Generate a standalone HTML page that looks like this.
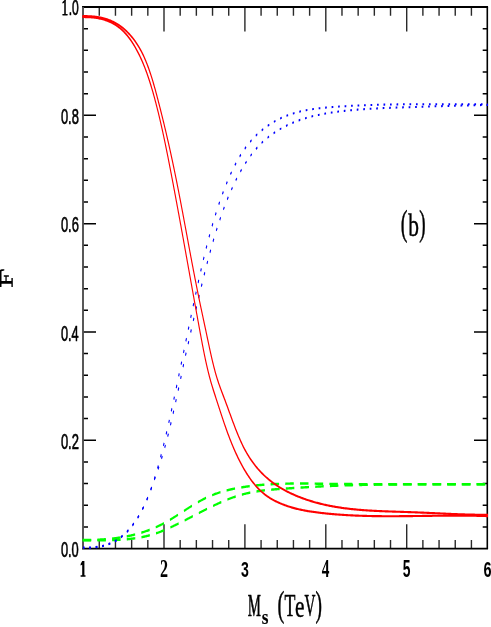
<!DOCTYPE html>
<html><head><meta charset="utf-8"><title>plot</title>
<style>html,body{margin:0;padding:0;background:#fff;width:491px;height:627px;overflow:hidden}</style>
</head><body>
<svg width="491" height="627" viewBox="0 0 491 627" style="display:block;position:absolute;left:0;top:0;will-change:transform">
<rect x="0" y="0" width="491" height="627" fill="#fff"/>
<path d="M99.28,548.7 v-8.7 M99.28,7.0 v8.7 M115.46,548.7 v-8.7 M115.46,7.0 v8.7 M131.64,548.7 v-8.7 M131.64,7.0 v8.7 M147.82,548.7 v-8.7 M147.82,7.0 v8.7 M164.00,548.7 v-24.4 M164.00,7.0 v24.4 M180.18,548.7 v-8.7 M180.18,7.0 v8.7 M196.36,548.7 v-8.7 M196.36,7.0 v8.7 M212.54,548.7 v-8.7 M212.54,7.0 v8.7 M228.72,548.7 v-8.7 M228.72,7.0 v8.7 M244.90,548.7 v-24.4 M244.90,7.0 v24.4 M261.08,548.7 v-8.7 M261.08,7.0 v8.7 M277.26,548.7 v-8.7 M277.26,7.0 v8.7 M293.44,548.7 v-8.7 M293.44,7.0 v8.7 M309.62,548.7 v-8.7 M309.62,7.0 v8.7 M325.80,548.7 v-24.4 M325.80,7.0 v24.4 M341.98,548.7 v-8.7 M341.98,7.0 v8.7 M358.16,548.7 v-8.7 M358.16,7.0 v8.7 M374.34,548.7 v-8.7 M374.34,7.0 v8.7 M390.52,548.7 v-8.7 M390.52,7.0 v8.7 M406.70,548.7 v-24.4 M406.70,7.0 v24.4 M422.88,548.7 v-8.7 M422.88,7.0 v8.7 M439.06,548.7 v-8.7 M439.06,7.0 v8.7 M455.24,548.7 v-8.7 M455.24,7.0 v8.7 M471.42,548.7 v-8.7 M471.42,7.0 v8.7" stroke="#2a2a2a" stroke-width="1.4" fill="none"/>
<path d="M83.0,526.94 h5.0 M487.3,526.94 h-4.6 M83.0,505.27 h5.0 M487.3,505.27 h-4.6 M83.0,483.61 h5.0 M487.3,483.61 h-4.6 M83.0,461.94 h5.0 M487.3,461.94 h-4.6 M83.0,440.28 h13.0 M487.3,440.28 h-13.3 M83.0,418.62 h5.0 M487.3,418.62 h-4.6 M83.0,396.95 h5.0 M487.3,396.95 h-4.6 M83.0,375.29 h5.0 M487.3,375.29 h-4.6 M83.0,353.62 h5.0 M487.3,353.62 h-4.6 M83.0,331.96 h13.0 M487.3,331.96 h-13.3 M83.0,310.30 h5.0 M487.3,310.30 h-4.6 M83.0,288.63 h5.0 M487.3,288.63 h-4.6 M83.0,266.97 h5.0 M487.3,266.97 h-4.6 M83.0,245.30 h5.0 M487.3,245.30 h-4.6 M83.0,223.64 h13.0 M487.3,223.64 h-13.3 M83.0,201.98 h5.0 M487.3,201.98 h-4.6 M83.0,180.31 h5.0 M487.3,180.31 h-4.6 M83.0,158.65 h5.0 M487.3,158.65 h-4.6 M83.0,136.98 h5.0 M487.3,136.98 h-4.6 M83.0,115.32 h13.0 M487.3,115.32 h-13.3 M83.0,93.66 h5.0 M487.3,93.66 h-4.6 M83.0,71.99 h5.0 M487.3,71.99 h-4.6 M83.0,50.33 h5.0 M487.3,50.33 h-4.6 M83.0,28.66 h5.0 M487.3,28.66 h-4.6" stroke="#000" stroke-width="1.5" fill="none"/>
<path d="M82.05,7.0 H488.05 M82.05,548.7 H488.05" fill="none" stroke="#000" stroke-width="1.8"/>
<path d="M83.0,7.0 V548.7" fill="none" stroke="#505050" stroke-width="1.9"/>
<path d="M487.3,7.0 V548.7" fill="none" stroke="#000" stroke-width="1.6"/>
<g transform="scale(1,1.94)" fill="none" stroke-linejoin="round">
<path d="M82.69,278.343 L83.37,278.344 L84.05,278.344 L84.73,278.343 L85.41,278.342 L86.09,278.340 L86.77,278.337 L87.46,278.334 L88.14,278.330 L88.82,278.325 L89.50,278.320 L90.19,278.314 L90.87,278.307 L91.55,278.300 L92.23,278.291 L92.92,278.282 L93.60,278.272 L94.28,278.261 L94.96,278.249 L95.65,278.237 L96.33,278.223 L97.01,278.209 L97.70,278.194 L98.38,278.177 L99.07,278.160 L99.75,278.142 L100.43,278.123 L101.12,278.103 L101.80,278.082 L102.48,278.060 L103.17,278.037 L103.85,278.012 L104.53,277.987 L105.22,277.961 L105.90,277.933 L106.58,277.905 L107.27,277.875 L107.95,277.844 L108.63,277.812 L109.32,277.779 L110.00,277.745 L110.68,277.709 L111.37,277.672 L112.05,277.634 L112.73,277.595 L113.42,277.554 L114.10,277.512 L114.78,277.469 L115.47,277.424 L116.15,277.378 L116.83,277.331 L117.51,277.283 L118.19,277.233 L118.88,277.181 L119.56,277.128 L120.24,277.074 L120.92,277.018 L121.60,276.961 L122.28,276.903 L122.96,276.842 L123.65,276.781 L124.33,276.718 L125.01,276.653 L125.69,276.587 L126.37,276.519 L127.05,276.449 L127.73,276.378 L128.41,276.306 L129.08,276.231 L129.76,276.155 L130.44,276.078 L131.12,275.999 L131.80,275.917 L132.48,275.835 L133.15,275.750 L133.83,275.664 L134.51,275.576 L135.18,275.486 L135.86,275.395 L136.54,275.302 L137.21,275.206 L137.89,275.109 L138.56,275.010 L139.24,274.910 L139.91,274.807 L140.59,274.703 L141.26,274.596 L141.93,274.488 L142.61,274.377 L143.28,274.265 L143.95,274.151 L144.62,274.034 L145.29,273.916 L145.96,273.796 L146.63,273.673 L147.30,273.549 L147.97,273.422 L148.64,273.294 L149.31,273.163 L149.98,273.030 L150.65,272.895 L151.32,272.758 L151.98,272.619 L152.65,272.477 L153.32,272.333 L153.98,272.188 L154.65,272.039 L155.31,271.889 L155.97,271.736 L156.64,271.581 L157.30,271.424 L157.96,271.264 L158.63,271.102 L159.29,270.938 L159.95,270.772 L160.61,270.603 L161.27,270.431 L161.93,270.257 L162.59,270.081 L163.25,269.903 L163.90,269.721 L164.56,269.538 L165.22,269.352 L165.87,269.164 L166.53,268.973 L167.18,268.781 L167.84,268.586 L168.49,268.390 L169.14,268.191 L169.80,267.991 L170.45,267.790 L171.10,267.586 L171.75,267.381 L172.41,267.175 L173.06,266.967 L173.71,266.758 L174.36,266.548 L175.01,266.337 L175.66,266.125 L176.31,265.911 L176.96,265.697 L177.61,265.482 L178.26,265.267 L178.91,265.051 L179.56,264.834 L180.21,264.617 L180.86,264.400 L181.51,264.182 L182.16,263.965 L182.81,263.747 L183.45,263.529 L184.10,263.311 L184.75,263.094 L185.40,262.876 L186.05,262.659 L186.70,262.443 L187.35,262.227 L188.00,262.011 L188.65,261.796 L189.30,261.582 L189.95,261.369 L190.60,261.157 L191.25,260.945 L191.91,260.735 L192.56,260.526 L193.21,260.319 L193.86,260.112 L194.51,259.907 L195.17,259.704 L195.82,259.502 L196.47,259.302 L197.13,259.104 L197.78,258.907 L198.44,258.713 L199.09,258.520 L199.75,258.330 L200.41,258.141 L201.07,257.955 L201.72,257.772 L202.38,257.591 L203.04,257.412 L203.70,257.236 L204.36,257.063 L205.02,256.892 L205.69,256.725 L206.35,256.560 L207.01,256.398 L207.68,256.239 L208.34,256.083 L209.01,255.930 L209.67,255.779 L210.34,255.631 L211.01,255.486 L211.67,255.343 L212.34,255.203 L213.01,255.066 L213.68,254.931 L214.35,254.799 L215.02,254.669 L215.69,254.542 L216.37,254.417 L217.04,254.295 L217.71,254.175 L218.38,254.057 L219.06,253.942 L219.73,253.829 L220.41,253.718 L221.08,253.610 L221.75,253.503 L222.43,253.399 L223.11,253.298 L223.78,253.198 L224.46,253.100 L225.13,253.005 L225.81,252.911 L226.49,252.819 L227.17,252.730 L227.84,252.642 L228.52,252.556 L229.20,252.472 L229.88,252.390 L230.56,252.310 L231.23,252.231 L231.91,252.155 L232.59,252.079 L233.27,252.006 L233.95,251.933 L234.63,251.863 L235.31,251.794 L235.99,251.726 L236.67,251.660 L237.35,251.595 L238.03,251.531 L238.71,251.469 L239.39,251.407 L240.07,251.347 L240.75,251.288 L241.43,251.231 L242.11,251.174 L242.79,251.118 L243.47,251.064 L244.15,251.010 L244.83,250.957 L245.51,250.906 L246.19,250.855 L246.88,250.805 L247.56,250.757 L248.24,250.709 L248.92,250.662 L249.60,250.616 L250.28,250.571 L250.96,250.527 L251.64,250.484 L252.32,250.442 L253.01,250.401 L253.69,250.361 L254.37,250.321 L255.05,250.282 L255.73,250.245 L256.41,250.208 L257.09,250.172 L257.78,250.137 L258.46,250.102 L259.14,250.069 L259.82,250.036 L260.50,250.004 L261.18,249.973 L261.87,249.943 L262.55,249.914 L263.23,249.885 L263.91,249.857 L264.59,249.830 L265.28,249.803 L265.96,249.777 L266.64,249.752 L267.32,249.728 L268.01,249.705 L268.69,249.682 L269.37,249.660 L270.05,249.638 L270.73,249.617 L271.42,249.597 L272.10,249.578 L272.78,249.559 L273.46,249.541 L274.15,249.523 L274.83,249.506 L275.51,249.490 L276.20,249.474 L276.88,249.459 L277.56,249.444 L278.24,249.431 L278.93,249.417 L279.61,249.404 L280.29,249.392 L280.97,249.380 L281.66,249.369 L282.34,249.359 L283.02,249.349 L283.71,249.339 L284.39,249.330 L285.07,249.321 L285.76,249.313 L286.44,249.306 L287.12,249.298 L287.80,249.292 L288.49,249.286 L289.17,249.280 L289.85,249.274 L290.54,249.269 L291.22,249.265 L291.90,249.261 L292.59,249.257 L293.27,249.254 L293.95,249.251 L294.64,249.248 L295.32,249.246 L296.00,249.244 L296.69,249.243 L297.37,249.241 L298.05,249.241 L298.74,249.240 L299.42,249.240 L300.10,249.240 L300.79,249.240 L301.47,249.241 L302.15,249.242 L302.84,249.243 L303.52,249.245 L304.21,249.247 L304.89,249.249 L305.57,249.251 L306.26,249.253 L306.94,249.256 L307.62,249.259 L308.31,249.262 L308.99,249.265 L309.67,249.269 L310.36,249.272 L311.04,249.276 L311.72,249.280 L312.41,249.284 L313.09,249.288 L313.78,249.293 L314.46,249.297 L315.14,249.302 L315.83,249.306 L316.51,249.311 L317.19,249.316 L317.88,249.321 L318.56,249.326 L319.24,249.331 L319.93,249.336 L320.61,249.341 L321.30,249.347 L321.98,249.352 L322.66,249.357 L323.35,249.362 L324.03,249.368 L324.71,249.373 L325.40,249.378 L326.08,249.383 L326.76,249.388 L327.45,249.394 L328.13,249.399 L328.81,249.404 L329.50,249.409 L330.18,249.413 L330.87,249.418 L331.55,249.423 L332.23,249.428 L332.92,249.432 L333.60,249.437 L334.28,249.441 L334.97,249.445 L335.65,249.449 L336.33,249.454 L337.02,249.458 L337.70,249.462 L338.38,249.466 L339.07,249.469 L339.75,249.473 L340.43,249.477 L341.12,249.480 L341.80,249.484 L342.48,249.487 L343.17,249.491 L343.85,249.494 L344.53,249.497 L345.22,249.501 L345.90,249.504 L346.58,249.507 L347.27,249.510 L347.95,249.513 L348.63,249.515 L349.32,249.518 L350.00,249.521 L350.68,249.523 L351.37,249.526 L352.05,249.529 L352.73,249.531 L353.42,249.533 L354.10,249.536 L354.78,249.538 L355.47,249.540 L356.15,249.542 L356.83,249.544 L357.52,249.546 L358.20,249.548 L358.88,249.550 L359.57,249.552 L360.25,249.554 L360.93,249.556 L361.61,249.557 L362.30,249.559 L362.98,249.561 L363.66,249.562 L364.35,249.564 L365.03,249.565 L365.71,249.566 L366.40,249.568 L367.08,249.569 L367.76,249.570 L368.45,249.572 L369.13,249.573 L369.81,249.574 L370.50,249.575 L371.18,249.576 L371.86,249.577 L372.54,249.578 L373.23,249.579 L373.91,249.580 L374.59,249.580 L375.28,249.581 L375.96,249.582 L376.64,249.583 L377.33,249.583 L378.01,249.584 L378.69,249.584 L379.38,249.585 L380.06,249.586 L380.74,249.586 L381.43,249.586 L382.11,249.587 L382.79,249.587 L383.47,249.588 L384.16,249.588 L384.84,249.588 L385.52,249.588 L386.21,249.589 L386.89,249.589 L387.57,249.589 L388.26,249.589 L388.94,249.589 L389.62,249.589 L390.30,249.589 L390.99,249.590 L391.67,249.590 L392.35,249.590 L393.04,249.590 L393.72,249.589 L394.40,249.589 L395.09,249.589 L395.77,249.589 L396.45,249.589 L397.13,249.589 L397.82,249.589 L398.50,249.589 L399.18,249.588 L399.87,249.588 L400.55,249.588 L401.23,249.588 L401.92,249.588 L402.60,249.587 L403.28,249.587 L403.96,249.587 L404.65,249.587 L405.33,249.586 L406.01,249.586 L406.70,249.586 L407.38,249.585 L408.06,249.585 L408.75,249.585 L409.43,249.584 L410.11,249.584 L410.80,249.584 L411.48,249.583 L412.16,249.583 L412.84,249.583 L413.53,249.582 L414.21,249.582 L414.89,249.582 L415.58,249.581 L416.26,249.581 L416.94,249.580 L417.63,249.580 L418.31,249.580 L418.99,249.579 L419.67,249.579 L420.36,249.579 L421.04,249.579 L421.72,249.578 L422.41,249.578 L423.09,249.578 L423.77,249.577 L424.46,249.577 L425.14,249.577 L425.82,249.577 L426.51,249.576 L427.19,249.576 L427.87,249.576 L428.55,249.576 L429.24,249.575 L429.92,249.575 L430.60,249.575 L431.29,249.575 L431.97,249.575 L432.65,249.575 L433.34,249.575 L434.02,249.575 L434.70,249.575 L435.39,249.575 L436.07,249.575 L436.75,249.575 L437.44,249.575 L438.12,249.575 L438.80,249.575 L439.48,249.575 L440.17,249.575 L440.85,249.575 L441.53,249.575 L442.22,249.576 L442.90,249.576 L443.58,249.576 L444.27,249.576 L444.95,249.577 L445.63,249.577 L446.32,249.578 L447.00,249.578 L447.68,249.579 L448.37,249.579 L449.05,249.580 L449.73,249.580 L450.42,249.581 L451.10,249.581 L451.78,249.582 L452.47,249.583 L453.15,249.584 L453.83,249.584 L454.52,249.585 L455.20,249.586 L455.88,249.587 L456.57,249.588 L457.25,249.589 L457.93,249.590 L458.62,249.591 L459.30,249.592 L459.98,249.594 L460.67,249.595 L461.35,249.596 L462.03,249.597 L462.72,249.599 L463.40,249.600 L464.08,249.602 L464.77,249.603 L465.45,249.605 L466.13,249.606 L466.82,249.608 L467.50,249.610 L468.18,249.612 L468.87,249.614 L469.55,249.615 L470.23,249.617 L470.92,249.619 L471.60,249.622 L472.28,249.624 L472.97,249.626 L473.65,249.628 L474.33,249.630 L475.02,249.633 L475.70,249.635 L476.38,249.638 L477.07,249.640 L477.75,249.643 L478.44,249.646 L479.12,249.648 L479.80,249.651 L480.49,249.654 L481.17,249.657 L481.85,249.660 L482.54,249.663 L483.22,249.666 L483.90,249.670 L484.59,249.673 L485.27,249.676 L485.96,249.680 L486.64,249.683 L487.32,249.687 L488.01,249.690" stroke="#00ff00" stroke-width="1.25" stroke-dasharray="8.5 6.2"/>
<path d="M82.69,278.520 L83.37,278.515 L84.05,278.511 L84.73,278.508 L85.41,278.504 L86.09,278.501 L86.77,278.499 L87.45,278.497 L88.13,278.495 L88.81,278.493 L89.49,278.492 L90.17,278.491 L90.85,278.490 L91.53,278.489 L92.21,278.489 L92.89,278.488 L93.57,278.488 L94.26,278.487 L94.94,278.487 L95.62,278.487 L96.30,278.487 L96.98,278.486 L97.67,278.486 L98.35,278.485 L99.03,278.484 L99.71,278.483 L100.40,278.482 L101.08,278.481 L101.76,278.479 L102.45,278.477 L103.13,278.475 L103.81,278.472 L104.49,278.469 L105.18,278.466 L105.86,278.462 L106.55,278.458 L107.23,278.453 L107.91,278.447 L108.60,278.442 L109.28,278.435 L109.96,278.428 L110.65,278.420 L111.33,278.412 L112.01,278.402 L112.70,278.393 L113.38,278.382 L114.07,278.370 L114.75,278.358 L115.43,278.345 L116.12,278.331 L116.80,278.316 L117.48,278.300 L118.17,278.283 L118.85,278.266 L119.54,278.247 L120.22,278.227 L120.90,278.206 L121.59,278.184 L122.27,278.161 L122.95,278.136 L123.63,278.111 L124.32,278.084 L125.00,278.056 L125.68,278.026 L126.37,277.995 L127.05,277.963 L127.73,277.930 L128.41,277.895 L129.10,277.859 L129.78,277.821 L130.46,277.782 L131.14,277.741 L131.82,277.699 L132.50,277.655 L133.19,277.609 L133.87,277.562 L134.55,277.513 L135.23,277.463 L135.91,277.411 L136.59,277.357 L137.27,277.301 L137.95,277.243 L138.63,277.184 L139.31,277.123 L139.99,277.059 L140.67,276.994 L141.34,276.927 L142.02,276.858 L142.70,276.787 L143.38,276.714 L144.06,276.639 L144.73,276.561 L145.41,276.482 L146.09,276.400 L146.76,276.316 L147.44,276.230 L148.11,276.142 L148.79,276.051 L149.46,275.958 L150.14,275.863 L150.81,275.765 L151.48,275.665 L152.16,275.563 L152.83,275.458 L153.50,275.351 L154.17,275.241 L154.84,275.128 L155.51,275.013 L156.18,274.896 L156.85,274.775 L157.52,274.653 L158.19,274.527 L158.86,274.400 L159.53,274.270 L160.19,274.137 L160.86,274.003 L161.53,273.866 L162.19,273.728 L162.86,273.587 L163.52,273.444 L164.19,273.300 L164.85,273.154 L165.52,273.006 L166.18,272.857 L166.84,272.706 L167.51,272.554 L168.17,272.400 L168.83,272.245 L169.50,272.088 L170.16,271.931 L170.82,271.772 L171.48,271.613 L172.15,271.452 L172.81,271.290 L173.47,271.128 L174.13,270.964 L174.79,270.799 L175.46,270.634 L176.12,270.468 L176.78,270.301 L177.44,270.133 L178.10,269.964 L178.76,269.795 L179.42,269.625 L180.08,269.455 L180.74,269.283 L181.41,269.111 L182.07,268.939 L182.73,268.766 L183.39,268.593 L184.05,268.419 L184.71,268.244 L185.37,268.070 L186.03,267.894 L186.69,267.719 L187.35,267.543 L188.01,267.367 L188.67,267.191 L189.33,267.014 L189.99,266.837 L190.65,266.660 L191.31,266.483 L191.97,266.306 L192.63,266.129 L193.29,265.951 L193.95,265.774 L194.61,265.597 L195.27,265.419 L195.93,265.242 L196.59,265.065 L197.25,264.888 L197.91,264.711 L198.57,264.535 L199.23,264.358 L199.89,264.182 L200.55,264.006 L201.21,263.831 L201.87,263.656 L202.53,263.481 L203.19,263.307 L203.85,263.133 L204.51,262.960 L205.18,262.787 L205.84,262.614 L206.50,262.443 L207.16,262.272 L207.82,262.101 L208.48,261.931 L209.14,261.762 L209.81,261.594 L210.47,261.426 L211.13,261.259 L211.79,261.093 L212.45,260.928 L213.12,260.763 L213.78,260.600 L214.44,260.437 L215.10,260.276 L215.77,260.115 L216.43,259.956 L217.09,259.797 L217.76,259.640 L218.42,259.484 L219.09,259.329 L219.75,259.175 L220.41,259.022 L221.08,258.871 L221.74,258.720 L222.41,258.572 L223.07,258.424 L223.74,258.278 L224.41,258.133 L225.07,257.990 L225.74,257.848 L226.41,257.708 L227.07,257.569 L227.74,257.432 L228.41,257.296 L229.07,257.162 L229.74,257.029 L230.41,256.899 L231.08,256.770 L231.75,256.642 L232.42,256.517 L233.09,256.393 L233.76,256.271 L234.43,256.151 L235.10,256.033 L235.77,255.917 L236.44,255.802 L237.11,255.690 L237.78,255.580 L238.45,255.472 L239.12,255.365 L239.80,255.261 L240.47,255.159 L241.14,255.060 L241.82,254.962 L242.49,254.867 L243.16,254.774 L243.84,254.683 L244.51,254.594 L245.19,254.507 L245.87,254.422 L246.54,254.339 L247.22,254.258 L247.89,254.179 L248.57,254.102 L249.25,254.027 L249.93,253.954 L250.60,253.883 L251.28,253.813 L251.96,253.745 L252.64,253.679 L253.32,253.614 L254.00,253.551 L254.68,253.490 L255.36,253.430 L256.04,253.372 L256.72,253.315 L257.40,253.260 L258.08,253.206 L258.76,253.153 L259.44,253.102 L260.12,253.052 L260.80,253.004 L261.48,252.957 L262.16,252.911 L262.85,252.866 L263.53,252.823 L264.21,252.780 L264.89,252.739 L265.57,252.699 L266.26,252.659 L266.94,252.621 L267.62,252.584 L268.31,252.548 L268.99,252.512 L269.67,252.478 L270.35,252.444 L271.04,252.411 L271.72,252.379 L272.40,252.347 L273.09,252.317 L273.77,252.286 L274.45,252.257 L275.14,252.228 L275.82,252.200 L276.50,252.172 L277.19,252.145 L277.87,252.118 L278.56,252.092 L279.24,252.066 L279.92,252.040 L280.61,252.015 L281.29,251.990 L281.97,251.965 L282.66,251.941 L283.34,251.917 L284.02,251.893 L284.71,251.869 L285.39,251.845 L286.07,251.821 L286.76,251.797 L287.44,251.774 L288.12,251.750 L288.80,251.727 L289.49,251.703 L290.17,251.680 L290.85,251.656 L291.54,251.633 L292.22,251.610 L292.90,251.587 L293.58,251.564 L294.26,251.541 L294.95,251.518 L295.63,251.495 L296.31,251.472 L296.99,251.450 L297.68,251.427 L298.36,251.405 L299.04,251.382 L299.72,251.360 L300.40,251.338 L301.09,251.316 L301.77,251.294 L302.45,251.272 L303.13,251.251 L303.81,251.229 L304.49,251.208 L305.18,251.186 L305.86,251.165 L306.54,251.144 L307.22,251.123 L307.90,251.102 L308.58,251.081 L309.27,251.060 L309.95,251.040 L310.63,251.019 L311.31,250.999 L311.99,250.979 L312.67,250.959 L313.35,250.939 L314.04,250.920 L314.72,250.900 L315.40,250.881 L316.08,250.861 L316.76,250.842 L317.44,250.823 L318.12,250.804 L318.80,250.786 L319.49,250.767 L320.17,250.749 L320.85,250.731 L321.53,250.713 L322.21,250.695 L322.89,250.677 L323.57,250.660 L324.25,250.642 L324.94,250.625 L325.62,250.608 L326.30,250.591 L326.98,250.575 L327.66,250.558 L328.34,250.542 L329.02,250.526 L329.71,250.510 L330.39,250.494 L331.07,250.479 L331.75,250.463 L332.43,250.448 L333.11,250.433 L333.79,250.418 L334.48,250.404 L335.16,250.389 L335.84,250.375 L336.52,250.361 L337.20,250.347 L337.88,250.334 L338.57,250.320 L339.25,250.307 L339.93,250.294 L340.61,250.281 L341.29,250.268 L341.97,250.255 L342.66,250.243 L343.34,250.231 L344.02,250.218 L344.70,250.206 L345.38,250.195 L346.07,250.183 L346.75,250.172 L347.43,250.160 L348.11,250.149 L348.79,250.138 L349.48,250.127 L350.16,250.117 L350.84,250.106 L351.52,250.096 L352.20,250.086 L352.89,250.076 L353.57,250.066 L354.25,250.056 L354.93,250.046 L355.61,250.037 L356.30,250.028 L356.98,250.019 L357.66,250.010 L358.34,250.001 L359.02,249.992 L359.71,249.983 L360.39,249.975 L361.07,249.967 L361.75,249.959 L362.44,249.951 L363.12,249.943 L363.80,249.935 L364.48,249.927 L365.16,249.920 L365.85,249.913 L366.53,249.905 L367.21,249.898 L367.89,249.891 L368.58,249.885 L369.26,249.878 L369.94,249.871 L370.62,249.865 L371.31,249.859 L371.99,249.852 L372.67,249.846 L373.35,249.840 L374.03,249.835 L374.72,249.829 L375.40,249.823 L376.08,249.818 L376.76,249.812 L377.45,249.807 L378.13,249.802 L378.81,249.797 L379.49,249.792 L380.18,249.787 L380.86,249.782 L381.54,249.778 L382.22,249.773 L382.91,249.769 L383.59,249.765 L384.27,249.760 L384.95,249.756 L385.64,249.752 L386.32,249.749 L387.00,249.745 L387.69,249.741 L388.37,249.737 L389.05,249.734 L389.73,249.730 L390.42,249.727 L391.10,249.724 L391.78,249.721 L392.46,249.718 L393.15,249.715 L393.83,249.712 L394.51,249.709 L395.19,249.706 L395.88,249.704 L396.56,249.701 L397.24,249.699 L397.92,249.696 L398.61,249.694 L399.29,249.692 L399.97,249.689 L400.65,249.687 L401.34,249.685 L402.02,249.683 L402.70,249.681 L403.39,249.680 L404.07,249.678 L404.75,249.676 L405.43,249.675 L406.12,249.673 L406.80,249.672 L407.48,249.670 L408.16,249.669 L408.85,249.667 L409.53,249.666 L410.21,249.665 L410.89,249.664 L411.58,249.663 L412.26,249.662 L412.94,249.661 L413.63,249.660 L414.31,249.659 L414.99,249.658 L415.67,249.658 L416.36,249.657 L417.04,249.656 L417.72,249.656 L418.40,249.655 L419.09,249.654 L419.77,249.654 L420.45,249.653 L421.13,249.653 L421.82,249.653 L422.50,249.652 L423.18,249.652 L423.87,249.652 L424.55,249.652 L425.23,249.651 L425.91,249.651 L426.60,249.651 L427.28,249.651 L427.96,249.651 L428.64,249.651 L429.33,249.651 L430.01,249.651 L430.69,249.651 L431.37,249.651 L432.06,249.651 L432.74,249.651 L433.42,249.651 L434.10,249.651 L434.79,249.652 L435.47,249.652 L436.15,249.652 L436.83,249.652 L437.52,249.652 L438.20,249.652 L438.88,249.653 L439.56,249.653 L440.25,249.653 L440.93,249.653 L441.61,249.654 L442.29,249.654 L442.98,249.654 L443.66,249.655 L444.34,249.655 L445.02,249.655 L445.71,249.655 L446.39,249.656 L447.07,249.656 L447.75,249.656 L448.44,249.656 L449.12,249.657 L449.80,249.657 L450.48,249.657 L451.17,249.657 L451.85,249.657 L452.53,249.658 L453.21,249.658 L453.89,249.658 L454.58,249.658 L455.26,249.658 L455.94,249.658 L456.62,249.659 L457.31,249.659 L457.99,249.659 L458.67,249.659 L459.35,249.659 L460.03,249.659 L460.72,249.659 L461.40,249.659 L462.08,249.658 L462.76,249.658 L463.44,249.658 L464.13,249.658 L464.81,249.658 L465.49,249.658 L466.17,249.657 L466.86,249.657 L467.54,249.657 L468.22,249.656 L468.90,249.656 L469.58,249.655 L470.26,249.655 L470.95,249.654 L471.63,249.653 L472.31,249.653 L472.99,249.652 L473.67,249.651 L474.36,249.651 L475.04,249.650 L475.72,249.649 L476.40,249.648 L477.08,249.647 L477.77,249.646 L478.45,249.645 L479.13,249.643 L479.81,249.642 L480.49,249.641 L481.17,249.640 L481.86,249.638 L482.54,249.637 L483.22,249.635 L483.90,249.633 L484.58,249.632 L485.26,249.630 L485.94,249.628 L486.63,249.626 L487.31,249.624 L487.99,249.622" stroke="#00ff00" stroke-width="1.25" stroke-dasharray="8.5 6.2"/>
<path d="M83.11,282.234 L83.97,282.260 L84.83,282.281 L85.70,282.298 L86.57,282.311 L87.44,282.318 L88.31,282.321 L89.19,282.318 L90.06,282.310 L90.94,282.296 L91.82,282.277 L92.70,282.251 L93.58,282.219 L94.47,282.181 L95.35,282.136 L96.23,282.084 L97.12,282.025 L98.00,281.960 L98.88,281.886 L99.77,281.805 L100.65,281.717 L101.53,281.620 L102.41,281.515 L103.29,281.402 L104.17,281.281 L105.05,281.150 L105.92,281.011 L106.80,280.863 L107.67,280.705 L108.53,280.538 L109.40,280.361 L110.26,280.174 L111.12,279.977 L111.98,279.770 L112.84,279.552 L113.69,279.324 L114.53,279.085 L115.38,278.834 L116.22,278.573 L117.05,278.300 L117.88,278.015 L118.71,277.720 L119.53,277.413 L120.35,277.095 L121.16,276.766 L121.97,276.426 L122.77,276.075 L123.56,275.713 L124.36,275.341 L125.14,274.958 L125.92,274.565 L126.70,274.161 L127.47,273.747 L128.23,273.323 L128.99,272.889 L129.74,272.445 L130.49,271.991 L131.23,271.527 L131.96,271.053 L132.68,270.570 L133.40,270.077 L134.12,269.575 L134.82,269.063 L135.52,268.542 L136.22,268.012 L136.90,267.473 L137.58,266.925 L138.25,266.368 L138.91,265.802 L139.57,265.228 L140.21,264.645 L140.85,264.053 L141.49,263.453 L142.11,262.845 L142.73,262.229 L143.33,261.604 L143.93,260.971 L144.52,260.331 L145.11,259.683 L145.68,259.027 L146.25,258.364 L146.81,257.694 L147.36,257.017 L147.90,256.334 L148.44,255.644 L148.97,254.948 L149.49,254.245 L150.01,253.537 L150.52,252.823 L151.02,252.104 L151.52,251.379 L152.01,250.649 L152.49,249.915 L152.97,249.175 L153.44,248.431 L153.91,247.683 L154.37,246.931 L154.83,246.175 L155.28,245.415 L155.72,244.651 L156.16,243.884 L156.60,243.115 L157.03,242.342 L157.46,241.566 L157.88,240.788 L158.30,240.008 L158.72,239.225 L159.13,238.440 L159.54,237.654 L159.94,236.866 L160.34,236.077 L160.74,235.287 L161.13,234.496 L161.52,233.703 L161.91,232.911 L162.30,232.117 L162.68,231.323 L163.06,230.528 L163.44,229.732 L163.81,228.935 L164.19,228.138 L164.56,227.341 L164.92,226.542 L165.29,225.743 L165.65,224.944 L166.02,224.143 L166.38,223.343 L166.73,222.541 L167.09,221.739 L167.44,220.937 L167.80,220.134 L168.15,219.330 L168.50,218.526 L168.85,217.722 L169.19,216.917 L169.54,216.112 L169.88,215.306 L170.22,214.499 L170.57,213.693 L170.91,212.886 L171.25,212.078 L171.59,211.270 L171.92,210.462 L172.26,209.653 L172.60,208.845 L172.94,208.035 L173.27,207.226 L173.61,206.416 L173.94,205.606 L174.27,204.795 L174.61,203.984 L174.94,203.173 L175.27,202.362 L175.60,201.550 L175.93,200.738 L176.26,199.926 L176.59,199.114 L176.92,198.301 L177.25,197.489 L177.58,196.676 L177.91,195.862 L178.23,195.049 L178.56,194.235 L178.89,193.421 L179.21,192.607 L179.54,191.793 L179.87,190.979 L180.19,190.164 L180.52,189.350 L180.84,188.535 L181.17,187.720 L181.49,186.905 L181.82,186.090 L182.14,185.275 L182.47,184.460 L182.79,183.644 L183.12,182.829 L183.44,182.013 L183.76,181.198 L184.09,180.382 L184.41,179.566 L184.74,178.751 L185.06,177.935 L185.39,177.119 L185.71,176.304 L186.03,175.488 L186.36,174.672 L186.68,173.856 L187.01,173.041 L187.33,172.225 L187.66,171.409 L187.98,170.594 L188.31,169.778 L188.64,168.963 L188.96,168.147 L189.29,167.332 L189.62,166.517 L189.94,165.702 L190.27,164.887 L190.60,164.072 L190.93,163.257 L191.26,162.442 L191.59,161.628 L191.92,160.813 L192.25,159.999 L192.58,159.185 L192.91,158.371 L193.24,157.558 L193.57,156.744 L193.91,155.931 L194.24,155.118 L194.58,154.305 L194.91,153.492 L195.25,152.680 L195.58,151.868 L195.92,151.056 L196.26,150.244 L196.60,149.433 L196.94,148.622 L197.28,147.811 L197.62,147.001 L197.96,146.191 L198.31,145.382 L198.65,144.573 L199.00,143.765 L199.34,142.957 L199.69,142.150 L200.04,141.344 L200.39,140.538 L200.75,139.733 L201.10,138.929 L201.46,138.126 L201.82,137.324 L202.18,136.522 L202.54,135.721 L202.90,134.922 L203.27,134.123 L203.63,133.325 L204.00,132.529 L204.38,131.733 L204.75,130.939 L205.12,130.145 L205.50,129.353 L205.88,128.563 L206.27,127.773 L206.65,126.985 L207.04,126.198 L207.43,125.413 L207.82,124.628 L208.22,123.846 L208.61,123.065 L209.02,122.285 L209.42,121.507 L209.83,120.731 L210.24,119.956 L210.65,119.183 L211.06,118.411 L211.48,117.642 L211.90,116.874 L212.33,116.108 L212.76,115.343 L213.19,114.581 L213.63,113.821 L214.06,113.062 L214.51,112.306 L214.95,111.551 L215.40,110.799 L215.86,110.048 L216.31,109.300 L216.77,108.554 L217.24,107.811 L217.71,107.069 L218.18,106.330 L218.66,105.593 L219.14,104.858 L219.62,104.126 L220.11,103.396 L220.60,102.669 L221.10,101.944 L221.60,101.222 L222.11,100.502 L222.62,99.785 L223.14,99.070 L223.66,98.359 L224.18,97.650 L224.71,96.945 L225.25,96.243 L225.78,95.545 L226.33,94.850 L226.88,94.159 L227.43,93.472 L227.99,92.789 L228.55,92.111 L229.12,91.436 L229.69,90.767 L230.27,90.102 L230.86,89.442 L231.45,88.787 L232.04,88.137 L232.64,87.492 L233.24,86.853 L233.85,86.220 L234.47,85.592 L235.09,84.971 L235.72,84.355 L236.35,83.746 L236.99,83.143 L237.63,82.546 L238.28,81.957 L238.93,81.374 L239.59,80.798 L240.26,80.229 L240.93,79.668 L241.61,79.114 L242.29,78.568 L242.98,78.029 L243.68,77.499 L244.38,76.976 L245.09,76.462 L245.80,75.956 L246.52,75.458 L247.24,74.968 L247.98,74.486 L248.71,74.013 L249.45,73.547 L250.20,73.088 L250.95,72.638 L251.71,72.195 L252.47,71.760 L253.24,71.333 L254.01,70.913 L254.78,70.500 L255.56,70.095 L256.34,69.697 L257.13,69.307 L257.92,68.923 L258.72,68.547 L259.52,68.178 L260.32,67.816 L261.12,67.461 L261.93,67.113 L262.74,66.771 L263.56,66.437 L264.38,66.109 L265.20,65.788 L266.02,65.473 L266.84,65.165 L267.67,64.863 L268.50,64.568 L269.33,64.279 L270.17,63.996 L271.00,63.720 L271.84,63.449 L272.68,63.185 L273.52,62.927 L274.36,62.674 L275.20,62.428 L276.05,62.187 L276.89,61.953 L277.74,61.723 L278.58,61.500 L279.43,61.282 L280.28,61.069 L281.13,60.861 L281.98,60.659 L282.84,60.462 L283.69,60.270 L284.55,60.083 L285.40,59.901 L286.26,59.724 L287.12,59.552 L287.97,59.384 L288.83,59.221 L289.69,59.063 L290.55,58.908 L291.42,58.759 L292.28,58.613 L293.14,58.472 L294.01,58.335 L294.87,58.202 L295.74,58.073 L296.61,57.948 L297.47,57.826 L298.34,57.709 L299.21,57.595 L300.08,57.484 L300.95,57.377 L301.82,57.274 L302.69,57.173 L303.56,57.076 L304.44,56.983 L305.31,56.892 L306.18,56.804 L307.06,56.719 L307.93,56.638 L308.81,56.558 L309.68,56.482 L310.56,56.408 L311.43,56.337 L312.31,56.268 L313.19,56.201 L314.07,56.137 L314.94,56.075 L315.82,56.015 L316.70,55.958 L317.58,55.902 L318.46,55.848 L319.34,55.796 L320.22,55.745 L321.09,55.697 L321.97,55.649 L322.85,55.604 L323.73,55.560 L324.61,55.517 L325.49,55.475 L326.37,55.434 L327.26,55.395 L328.14,55.357 L329.02,55.319 L329.90,55.282 L330.78,55.247 L331.66,55.212 L332.54,55.177 L333.42,55.143 L334.30,55.110 L335.18,55.077 L336.06,55.044 L336.94,55.012 L337.82,54.981 L338.70,54.950 L339.58,54.919 L340.46,54.889 L341.34,54.860 L342.22,54.831 L343.10,54.802 L343.98,54.774 L344.86,54.747 L345.73,54.720 L346.61,54.693 L347.49,54.667 L348.37,54.641 L349.25,54.616 L350.13,54.591 L351.01,54.566 L351.89,54.542 L352.77,54.519 L353.65,54.496 L354.53,54.473 L355.40,54.451 L356.28,54.429 L357.16,54.408 L358.04,54.387 L358.92,54.366 L359.80,54.346 L360.68,54.326 L361.55,54.307 L362.43,54.288 L363.31,54.269 L364.19,54.251 L365.07,54.233 L365.94,54.216 L366.82,54.199 L367.70,54.182 L368.58,54.166 L369.46,54.150 L370.34,54.134 L371.21,54.119 L372.09,54.104 L372.97,54.089 L373.85,54.075 L374.72,54.061 L375.60,54.048 L376.48,54.034 L377.36,54.022 L378.24,54.009 L379.11,53.997 L379.99,53.985 L380.87,53.973 L381.75,53.962 L382.62,53.951 L383.50,53.940 L384.38,53.930 L385.26,53.920 L386.13,53.910 L387.01,53.900 L387.89,53.891 L388.77,53.882 L389.64,53.873 L390.52,53.865 L391.40,53.857 L392.28,53.849 L393.15,53.841 L394.03,53.834 L394.91,53.827 L395.79,53.820 L396.66,53.813 L397.54,53.807 L398.42,53.801 L399.30,53.795 L400.17,53.789 L401.05,53.783 L401.93,53.778 L402.80,53.773 L403.68,53.768 L404.56,53.764 L405.44,53.759 L406.31,53.755 L407.19,53.751 L408.07,53.747 L408.95,53.743 L409.82,53.740 L410.70,53.737 L411.58,53.734 L412.46,53.731 L413.33,53.728 L414.21,53.725 L415.09,53.723 L415.96,53.721 L416.84,53.718 L417.72,53.717 L418.60,53.715 L419.47,53.713 L420.35,53.711 L421.23,53.710 L422.11,53.709 L422.98,53.708 L423.86,53.707 L424.74,53.706 L425.62,53.705 L426.49,53.704 L427.37,53.704 L428.25,53.703 L429.13,53.703 L430.01,53.703 L430.88,53.702 L431.76,53.702 L432.64,53.702 L433.52,53.702 L434.39,53.703 L435.27,53.703 L436.15,53.703 L437.03,53.703 L437.91,53.704 L438.78,53.704 L439.66,53.705 L440.54,53.706 L441.42,53.706 L442.30,53.707 L443.17,53.708 L444.05,53.708 L444.93,53.709 L445.81,53.710 L446.69,53.711 L447.57,53.712 L448.44,53.713 L449.32,53.713 L450.20,53.714 L451.08,53.715 L451.96,53.716 L452.84,53.717 L453.72,53.718 L454.59,53.719 L455.47,53.720 L456.35,53.721 L457.23,53.721 L458.11,53.722 L458.99,53.723 L459.87,53.724 L460.75,53.724 L461.63,53.725 L462.51,53.726 L463.39,53.726 L464.27,53.727 L465.14,53.727 L466.02,53.728 L466.90,53.728 L467.78,53.728 L468.66,53.728 L469.54,53.729 L470.42,53.729 L471.30,53.728 L472.18,53.728 L473.06,53.728 L473.94,53.728 L474.82,53.727 L475.70,53.727 L476.58,53.726 L477.46,53.725 L478.34,53.725 L479.23,53.724 L480.11,53.722 L480.99,53.721 L481.87,53.720 L482.75,53.718 L483.63,53.717 L484.51,53.715 L485.39,53.713 L486.27,53.711 L487.15,53.709 L488.04,53.706" stroke="#0000ff" stroke-width="1.05" stroke-dasharray="1.7 4.79" stroke-dashoffset="0.3"/>
<path d="M83.10,282.405 L83.97,282.389 L84.83,282.373 L85.70,282.354 L86.57,282.335 L87.44,282.313 L88.31,282.290 L89.18,282.263 L90.05,282.235 L90.92,282.203 L91.79,282.168 L92.66,282.130 L93.53,282.087 L94.40,282.041 L95.27,281.990 L96.14,281.934 L97.01,281.874 L97.88,281.808 L98.75,281.737 L99.61,281.660 L100.48,281.576 L101.35,281.487 L102.21,281.390 L103.08,281.287 L103.94,281.176 L104.80,281.058 L105.66,280.932 L106.52,280.798 L107.37,280.655 L108.23,280.504 L109.08,280.344 L109.93,280.174 L110.78,279.995 L111.63,279.806 L112.47,279.607 L113.31,279.398 L114.15,279.177 L114.99,278.946 L115.83,278.704 L116.66,278.450 L117.49,278.184 L118.31,277.907 L119.13,277.618 L119.95,277.317 L120.77,277.005 L121.58,276.682 L122.38,276.347 L123.19,276.001 L123.98,275.643 L124.77,275.275 L125.56,274.895 L126.34,274.504 L127.12,274.103 L127.88,273.690 L128.65,273.266 L129.40,272.831 L130.15,272.386 L130.89,271.930 L131.63,271.463 L132.36,270.985 L133.08,270.497 L133.79,269.998 L134.49,269.489 L135.19,268.970 L135.87,268.440 L136.55,267.901 L137.22,267.352 L137.89,266.794 L138.54,266.226 L139.19,265.650 L139.83,265.064 L140.46,264.471 L141.09,263.868 L141.70,263.258 L142.31,262.640 L142.91,262.014 L143.50,261.381 L144.09,260.741 L144.67,260.094 L145.24,259.440 L145.81,258.779 L146.36,258.113 L146.92,257.442 L147.46,256.765 L148.00,256.083 L148.54,255.396 L149.07,254.705 L149.59,254.010 L150.12,253.311 L150.63,252.609 L151.15,251.904 L151.66,251.196 L152.16,250.485 L152.66,249.773 L153.16,249.059 L153.66,248.343 L154.16,247.626 L154.65,246.908 L155.14,246.190 L155.63,245.472 L156.12,244.753 L156.60,244.033 L157.09,243.313 L157.57,242.592 L158.05,241.869 L158.52,241.145 L159.00,240.419 L159.46,239.691 L159.93,238.960 L160.39,238.227 L160.85,237.492 L161.30,236.753 L161.75,236.011 L162.19,235.265 L162.63,234.516 L163.07,233.764 L163.49,233.008 L163.92,232.249 L164.34,231.487 L164.75,230.722 L165.16,229.954 L165.57,229.184 L165.97,228.411 L166.37,227.635 L166.77,226.857 L167.16,226.077 L167.55,225.295 L167.93,224.511 L168.31,223.725 L168.69,222.938 L169.06,222.149 L169.43,221.358 L169.80,220.566 L170.17,219.773 L170.53,218.979 L170.89,218.183 L171.25,217.387 L171.60,216.591 L171.96,215.793 L172.31,214.995 L172.66,214.197 L173.00,213.399 L173.35,212.600 L173.69,211.801 L174.04,211.003 L174.38,210.205 L174.72,209.407 L175.05,208.609 L175.39,207.813 L175.73,207.017 L176.06,206.222 L176.40,205.427 L176.73,204.634 L177.06,203.841 L177.40,203.049 L177.73,202.257 L178.06,201.466 L178.38,200.675 L178.71,199.884 L179.04,199.093 L179.36,198.302 L179.69,197.511 L180.01,196.720 L180.33,195.929 L180.66,195.137 L180.98,194.344 L181.29,193.551 L181.61,192.758 L181.93,191.965 L182.25,191.171 L182.56,190.378 L182.88,189.586 L183.20,188.794 L183.52,188.003 L183.84,187.214 L184.16,186.425 L184.49,185.639 L184.81,184.854 L185.14,184.072 L185.48,183.292 L185.81,182.514 L186.15,181.739 L186.50,180.965 L186.84,180.193 L187.18,179.421 L187.53,178.649 L187.87,177.878 L188.21,177.105 L188.55,176.331 L188.88,175.556 L189.21,174.779 L189.54,174.000 L189.87,173.220 L190.20,172.439 L190.54,171.657 L190.87,170.874 L191.21,170.090 L191.55,169.305 L191.89,168.519 L192.24,167.732 L192.59,166.944 L192.94,166.155 L193.29,165.366 L193.64,164.577 L194.00,163.786 L194.36,162.996 L194.71,162.204 L195.07,161.413 L195.43,160.621 L195.79,159.829 L196.15,159.037 L196.51,158.244 L196.87,157.452 L197.23,156.659 L197.59,155.866 L197.96,155.074 L198.32,154.281 L198.68,153.489 L199.04,152.697 L199.41,151.904 L199.77,151.113 L200.13,150.321 L200.50,149.530 L200.87,148.739 L201.23,147.948 L201.60,147.158 L201.97,146.369 L202.34,145.579 L202.71,144.791 L203.08,144.003 L203.46,143.216 L203.83,142.429 L204.21,141.643 L204.59,140.858 L204.97,140.074 L205.35,139.291 L205.73,138.508 L206.12,137.727 L206.50,136.946 L206.89,136.167 L207.28,135.388 L207.67,134.611 L208.07,133.835 L208.46,133.060 L208.86,132.286 L209.26,131.514 L209.67,130.743 L210.07,129.973 L210.48,129.205 L210.89,128.438 L211.30,127.672 L211.72,126.909 L212.13,126.146 L212.55,125.386 L212.98,124.627 L213.40,123.869 L213.83,123.114 L214.26,122.360 L214.70,121.608 L215.14,120.858 L215.58,120.110 L216.02,119.364 L216.47,118.620 L216.92,117.878 L217.38,117.138 L217.83,116.400 L218.29,115.664 L218.76,114.930 L219.23,114.199 L219.70,113.470 L220.18,112.743 L220.65,112.019 L221.14,111.297 L221.63,110.578 L222.12,109.861 L222.61,109.146 L223.11,108.434 L223.62,107.725 L224.12,107.019 L224.64,106.315 L225.15,105.614 L225.67,104.917 L226.20,104.222 L226.73,103.531 L227.26,102.842 L227.80,102.157 L228.34,101.476 L228.89,100.798 L229.44,100.124 L230.00,99.453 L230.56,98.787 L231.12,98.124 L231.69,97.465 L232.26,96.810 L232.84,96.160 L233.43,95.513 L234.01,94.872 L234.61,94.234 L235.20,93.601 L235.80,92.973 L236.41,92.349 L237.02,91.731 L237.64,91.117 L238.26,90.508 L238.88,89.904 L239.51,89.306 L240.15,88.713 L240.79,88.125 L241.43,87.542 L242.08,86.965 L242.74,86.394 L243.40,85.829 L244.06,85.269 L244.73,84.715 L245.40,84.167 L246.08,83.626 L246.77,83.090 L247.46,82.561 L248.15,82.038 L248.85,81.522 L249.55,81.012 L250.26,80.508 L250.98,80.012 L251.69,79.522 L252.42,79.039 L253.14,78.562 L253.88,78.093 L254.61,77.631 L255.36,77.176 L256.10,76.728 L256.85,76.288 L257.61,75.855 L258.37,75.429 L259.13,75.011 L259.90,74.601 L260.67,74.198 L261.45,73.804 L262.23,73.417 L263.01,73.038 L263.80,72.666 L264.59,72.301 L265.39,71.944 L266.19,71.594 L266.99,71.250 L267.80,70.913 L268.60,70.583 L269.41,70.259 L270.23,69.941 L271.04,69.629 L271.86,69.323 L272.68,69.022 L273.50,68.727 L274.32,68.438 L275.14,68.153 L275.97,67.874 L276.79,67.599 L277.62,67.330 L278.45,67.066 L279.28,66.807 L280.11,66.553 L280.94,66.303 L281.77,66.059 L282.61,65.819 L283.44,65.583 L284.28,65.353 L285.12,65.127 L285.95,64.905 L286.79,64.688 L287.64,64.475 L288.48,64.266 L289.32,64.062 L290.17,63.862 L291.01,63.666 L291.86,63.474 L292.70,63.286 L293.55,63.102 L294.40,62.922 L295.25,62.746 L296.10,62.573 L296.95,62.405 L297.80,62.240 L298.66,62.078 L299.51,61.920 L300.37,61.766 L301.22,61.615 L302.08,61.467 L302.94,61.323 L303.79,61.182 L304.65,61.044 L305.51,60.909 L306.37,60.777 L307.23,60.649 L308.09,60.523 L308.95,60.400 L309.81,60.280 L310.68,60.163 L311.54,60.048 L312.40,59.937 L313.27,59.827 L314.13,59.721 L314.99,59.616 L315.86,59.515 L316.72,59.415 L317.59,59.318 L318.46,59.223 L319.32,59.130 L320.19,59.040 L321.06,58.951 L321.92,58.865 L322.79,58.780 L323.66,58.698 L324.53,58.617 L325.39,58.538 L326.26,58.460 L327.13,58.385 L328.00,58.311 L328.87,58.238 L329.74,58.167 L330.60,58.097 L331.47,58.029 L332.34,57.962 L333.21,57.896 L334.08,57.832 L334.95,57.769 L335.82,57.707 L336.68,57.646 L337.55,57.587 L338.42,57.528 L339.29,57.471 L340.16,57.415 L341.03,57.360 L341.90,57.307 L342.77,57.254 L343.63,57.202 L344.50,57.152 L345.37,57.102 L346.24,57.054 L347.11,57.007 L347.98,56.960 L348.85,56.915 L349.72,56.870 L350.58,56.827 L351.45,56.784 L352.32,56.743 L353.19,56.702 L354.06,56.662 L354.93,56.623 L355.80,56.585 L356.67,56.548 L357.54,56.512 L358.40,56.476 L359.27,56.441 L360.14,56.407 L361.01,56.374 L361.88,56.342 L362.75,56.310 L363.62,56.279 L364.49,56.248 L365.36,56.219 L366.22,56.190 L367.09,56.161 L367.96,56.134 L368.83,56.106 L369.70,56.080 L370.57,56.054 L371.44,56.028 L372.31,56.004 L373.18,55.979 L374.05,55.956 L374.92,55.932 L375.78,55.909 L376.65,55.887 L377.52,55.865 L378.39,55.844 L379.26,55.823 L380.13,55.802 L381.00,55.782 L381.87,55.762 L382.74,55.742 L383.61,55.723 L384.48,55.704 L385.35,55.686 L386.22,55.668 L387.09,55.650 L387.95,55.632 L388.82,55.614 L389.69,55.597 L390.56,55.580 L391.43,55.563 L392.30,55.546 L393.17,55.530 L394.04,55.513 L394.91,55.497 L395.78,55.481 L396.65,55.465 L397.52,55.449 L398.39,55.433 L399.26,55.417 L400.13,55.401 L401.00,55.385 L401.87,55.370 L402.74,55.354 L403.61,55.338 L404.48,55.323 L405.35,55.307 L406.22,55.292 L407.09,55.277 L407.96,55.261 L408.83,55.246 L409.70,55.231 L410.57,55.215 L411.44,55.200 L412.31,55.185 L413.18,55.170 L414.05,55.155 L414.92,55.140 L415.79,55.125 L416.66,55.111 L417.53,55.096 L418.40,55.081 L419.27,55.067 L420.14,55.052 L421.01,55.037 L421.88,55.023 L422.75,55.009 L423.62,54.994 L424.49,54.980 L425.36,54.966 L426.23,54.951 L427.10,54.937 L427.97,54.923 L428.84,54.909 L429.71,54.895 L430.58,54.881 L431.45,54.867 L432.32,54.854 L433.19,54.840 L434.06,54.826 L434.93,54.813 L435.80,54.799 L436.67,54.786 L437.54,54.772 L438.41,54.759 L439.28,54.745 L440.15,54.732 L441.02,54.719 L441.89,54.706 L442.76,54.693 L443.63,54.680 L444.50,54.667 L445.38,54.654 L446.25,54.641 L447.12,54.628 L447.99,54.615 L448.86,54.602 L449.73,54.590 L450.60,54.577 L451.47,54.565 L452.34,54.552 L453.21,54.540 L454.08,54.528 L454.95,54.515 L455.82,54.503 L456.69,54.491 L457.56,54.479 L458.43,54.467 L459.30,54.455 L460.17,54.443 L461.04,54.431 L461.91,54.419 L462.78,54.407 L463.65,54.396 L464.52,54.384 L465.39,54.373 L466.26,54.361 L467.13,54.350 L468.00,54.338 L468.87,54.327 L469.74,54.316 L470.61,54.305 L471.47,54.294 L472.34,54.282 L473.21,54.271 L474.08,54.261 L474.95,54.250 L475.82,54.239 L476.69,54.228 L477.56,54.217 L478.43,54.207 L479.30,54.196 L480.17,54.186 L481.04,54.175 L481.91,54.165 L482.78,54.155 L483.65,54.145 L484.52,54.134 L485.39,54.124 L486.26,54.114 L487.13,54.104 L487.99,54.094" stroke="#0000ff" stroke-width="1.05" stroke-dasharray="1.7 4.79" stroke-dashoffset="0.5"/>
<path d="M82.50,8.793 L83.41,8.790 L84.32,8.791 L85.23,8.795 L86.14,8.803 L87.05,8.815 L87.97,8.831 L88.89,8.852 L89.81,8.879 L90.73,8.910 L91.65,8.947 L92.57,8.989 L93.50,9.038 L94.42,9.093 L95.35,9.155 L96.27,9.223 L97.20,9.299 L98.12,9.382 L99.05,9.473 L99.97,9.572 L100.89,9.680 L101.81,9.795 L102.73,9.920 L103.65,10.054 L104.56,10.197 L105.47,10.350 L106.39,10.513 L107.29,10.686 L108.20,10.870 L109.10,11.064 L110.00,11.270 L110.89,11.486 L111.78,11.715 L112.67,11.955 L113.55,12.208 L114.43,12.473 L115.31,12.751 L116.17,13.042 L117.04,13.346 L117.90,13.663 L118.75,13.995 L119.59,14.341 L120.44,14.701 L121.27,15.076 L122.10,15.465 L122.92,15.870 L123.73,16.291 L124.54,16.727 L125.34,17.177 L126.13,17.642 L126.92,18.121 L127.70,18.613 L128.47,19.119 L129.23,19.638 L129.98,20.170 L130.73,20.714 L131.47,21.270 L132.20,21.838 L132.92,22.417 L133.64,23.007 L134.34,23.608 L135.04,24.219 L135.73,24.840 L136.41,25.470 L137.08,26.110 L137.75,26.759 L138.40,27.416 L139.05,28.081 L139.68,28.754 L140.31,29.435 L140.93,30.123 L141.53,30.818 L142.13,31.519 L142.72,32.226 L143.30,32.940 L143.87,33.660 L144.44,34.386 L144.99,35.117 L145.54,35.854 L146.08,36.597 L146.61,37.344 L147.13,38.097 L147.64,38.854 L148.15,39.616 L148.65,40.383 L149.15,41.154 L149.64,41.930 L150.12,42.709 L150.59,43.492 L151.06,44.279 L151.52,45.069 L151.98,45.863 L152.43,46.660 L152.88,47.460 L153.32,48.263 L153.76,49.068 L154.19,49.876 L154.62,50.687 L155.04,51.499 L155.46,52.314 L155.88,53.131 L156.29,53.949 L156.70,54.770 L157.10,55.592 L157.50,56.416 L157.90,57.242 L158.30,58.070 L158.69,58.900 L159.07,59.731 L159.46,60.563 L159.84,61.398 L160.22,62.233 L160.59,63.071 L160.96,63.909 L161.33,64.750 L161.70,65.591 L162.07,66.434 L162.43,67.278 L162.79,68.123 L163.14,68.970 L163.50,69.817 L163.85,70.666 L164.20,71.516 L164.55,72.367 L164.90,73.219 L165.24,74.071 L165.58,74.925 L165.92,75.779 L166.26,76.635 L166.60,77.491 L166.93,78.348 L167.27,79.205 L167.60,80.063 L167.93,80.922 L168.26,81.781 L168.59,82.641 L168.92,83.502 L169.24,84.362 L169.57,85.224 L169.89,86.085 L170.22,86.947 L170.54,87.809 L170.86,88.671 L171.18,89.534 L171.50,90.397 L171.82,91.260 L172.14,92.123 L172.46,92.986 L172.78,93.849 L173.10,94.713 L173.41,95.577 L173.73,96.441 L174.04,97.305 L174.36,98.170 L174.67,99.034 L174.99,99.899 L175.30,100.764 L175.61,101.629 L175.93,102.494 L176.24,103.359 L176.55,104.225 L176.86,105.090 L177.17,105.956 L177.48,106.822 L177.79,107.688 L178.10,108.554 L178.41,109.420 L178.72,110.287 L179.03,111.153 L179.33,112.020 L179.64,112.886 L179.95,113.753 L180.25,114.620 L180.56,115.487 L180.87,116.354 L181.17,117.222 L181.48,118.089 L181.78,118.957 L182.09,119.824 L182.39,120.692 L182.70,121.559 L183.00,122.427 L183.31,123.295 L183.61,124.163 L183.91,125.031 L184.22,125.899 L184.52,126.767 L184.82,127.635 L185.13,128.504 L185.43,129.372 L185.73,130.240 L186.03,131.109 L186.34,131.977 L186.64,132.846 L186.94,133.714 L187.24,134.583 L187.54,135.451 L187.85,136.320 L188.15,137.189 L188.45,138.057 L188.75,138.926 L189.06,139.795 L189.36,140.663 L189.66,141.532 L189.96,142.401 L190.26,143.270 L190.57,144.138 L190.87,145.007 L191.17,145.876 L191.47,146.745 L191.78,147.613 L192.08,148.482 L192.38,149.351 L192.69,150.219 L192.99,151.088 L193.29,151.956 L193.60,152.825 L193.90,153.694 L194.21,154.562 L194.51,155.430 L194.82,156.299 L195.12,157.167 L195.43,158.036 L195.73,158.904 L196.04,159.772 L196.34,160.640 L196.65,161.508 L196.96,162.376 L197.26,163.244 L197.57,164.112 L197.88,164.980 L198.19,165.847 L198.50,166.715 L198.80,167.582 L199.11,168.450 L199.42,169.317 L199.73,170.184 L200.04,171.052 L200.36,171.919 L200.67,172.786 L200.98,173.652 L201.29,174.519 L201.61,175.385 L201.92,176.250 L202.24,177.115 L202.56,177.979 L202.88,178.841 L203.21,179.703 L203.53,180.563 L203.86,181.422 L204.20,182.279 L204.53,183.134 L204.88,183.988 L205.22,184.839 L205.57,185.688 L205.93,186.535 L206.29,187.379 L206.66,188.221 L207.03,189.060 L207.41,189.896 L207.79,190.729 L208.18,191.558 L208.58,192.384 L208.98,193.207 L209.40,194.026 L209.82,194.841 L210.25,195.652 L210.68,196.459 L211.13,197.262 L211.58,198.061 L212.04,198.856 L212.51,199.648 L212.98,200.437 L213.46,201.224 L213.94,202.008 L214.43,202.790 L214.92,203.571 L215.41,204.351 L215.90,205.130 L216.39,205.909 L216.88,206.687 L217.37,207.466 L217.86,208.244 L218.34,209.023 L218.83,209.801 L219.32,210.578 L219.81,211.355 L220.30,212.131 L220.79,212.907 L221.28,213.681 L221.78,214.455 L222.27,215.227 L222.77,215.997 L223.27,216.767 L223.78,217.534 L224.28,218.300 L224.79,219.064 L225.31,219.826 L225.82,220.586 L226.34,221.343 L226.87,222.098 L227.40,222.851 L227.93,223.601 L228.48,224.348 L229.02,225.092 L229.57,225.833 L230.13,226.571 L230.69,227.305 L231.26,228.036 L231.83,228.762 L232.41,229.485 L233.00,230.203 L233.59,230.917 L234.18,231.627 L234.79,232.331 L235.39,233.031 L236.01,233.725 L236.63,234.414 L237.25,235.097 L237.88,235.775 L238.52,236.447 L239.16,237.112 L239.81,237.771 L240.46,238.424 L241.12,239.070 L241.78,239.709 L242.45,240.341 L243.13,240.966 L243.81,241.584 L244.50,242.193 L245.20,242.795 L245.90,243.389 L246.61,243.975 L247.32,244.552 L248.04,245.121 L248.76,245.681 L249.49,246.232 L250.23,246.774 L250.97,247.307 L251.72,247.830 L252.48,248.344 L253.24,248.847 L254.01,249.341 L254.78,249.824 L255.56,250.297 L256.35,250.759 L257.14,251.211 L257.94,251.651 L258.75,252.080 L259.56,252.498 L260.38,252.904 L261.20,253.299 L262.03,253.682 L262.87,254.053 L263.71,254.413 L264.56,254.762 L265.41,255.101 L266.27,255.429 L267.13,255.747 L268.00,256.056 L268.87,256.355 L269.75,256.644 L270.63,256.925 L271.51,257.197 L272.40,257.461 L273.29,257.716 L274.18,257.964 L275.07,258.204 L275.97,258.437 L276.87,258.662 L277.77,258.882 L278.67,259.094 L279.58,259.301 L280.48,259.501 L281.39,259.697 L282.29,259.886 L283.20,260.071 L284.10,260.250 L285.01,260.425 L285.92,260.594 L286.83,260.759 L287.73,260.919 L288.64,261.074 L289.55,261.225 L290.46,261.371 L291.37,261.513 L292.28,261.651 L293.19,261.785 L294.10,261.914 L295.01,262.040 L295.93,262.162 L296.84,262.280 L297.75,262.394 L298.66,262.505 L299.58,262.613 L300.49,262.717 L301.40,262.818 L302.32,262.916 L303.23,263.011 L304.14,263.103 L305.06,263.191 L305.97,263.278 L306.89,263.361 L307.80,263.442 L308.72,263.521 L309.63,263.597 L310.55,263.671 L311.47,263.743 L312.38,263.812 L313.30,263.880 L314.21,263.946 L315.13,264.010 L316.05,264.073 L316.96,264.134 L317.88,264.193 L318.80,264.251 L319.71,264.308 L320.63,264.363 L321.55,264.418 L322.46,264.471 L323.38,264.524 L324.30,264.575 L325.22,264.625 L326.13,264.674 L327.05,264.722 L327.97,264.769 L328.89,264.815 L329.80,264.860 L330.72,264.904 L331.64,264.948 L332.56,264.990 L333.48,265.031 L334.39,265.071 L335.31,265.110 L336.23,265.148 L337.15,265.186 L338.07,265.222 L338.98,265.258 L339.90,265.292 L340.82,265.326 L341.74,265.359 L342.66,265.391 L343.58,265.422 L344.49,265.452 L345.41,265.481 L346.33,265.510 L347.25,265.538 L348.17,265.565 L349.09,265.591 L350.01,265.616 L350.93,265.641 L351.85,265.664 L352.76,265.687 L353.68,265.710 L354.60,265.731 L355.52,265.752 L356.44,265.772 L357.36,265.791 L358.28,265.810 L359.20,265.828 L360.12,265.845 L361.04,265.862 L361.96,265.878 L362.88,265.893 L363.80,265.907 L364.71,265.921 L365.63,265.935 L366.55,265.947 L367.47,265.960 L368.39,265.971 L369.31,265.982 L370.23,265.992 L371.15,266.002 L372.07,266.011 L372.99,266.020 L373.91,266.028 L374.83,266.036 L375.75,266.043 L376.67,266.049 L377.59,266.056 L378.51,266.061 L379.43,266.066 L380.35,266.071 L381.27,266.075 L382.19,266.079 L383.11,266.082 L384.03,266.085 L384.95,266.087 L385.87,266.089 L386.79,266.091 L387.71,266.092 L388.63,266.093 L389.55,266.094 L390.47,266.094 L391.39,266.094 L392.31,266.093 L393.23,266.092 L394.16,266.091 L395.08,266.089 L396.00,266.088 L396.92,266.085 L397.84,266.083 L398.76,266.080 L399.68,266.077 L400.60,266.074 L401.52,266.071 L402.44,266.067 L403.36,266.063 L404.28,266.059 L405.20,266.055 L406.12,266.050 L407.04,266.045 L407.96,266.040 L408.88,266.035 L409.80,266.030 L410.72,266.025 L411.64,266.019 L412.56,266.014 L413.48,266.008 L414.41,266.002 L415.33,265.996 L416.25,265.990 L417.17,265.984 L418.09,265.978 L419.01,265.972 L419.93,265.965 L420.85,265.959 L421.77,265.953 L422.69,265.946 L423.61,265.940 L424.53,265.934 L425.45,265.927 L426.37,265.921 L427.29,265.915 L428.21,265.908 L429.13,265.902 L430.05,265.896 L430.97,265.890 L431.89,265.884 L432.81,265.878 L433.73,265.872 L434.66,265.866 L435.58,265.861 L436.50,265.855 L437.42,265.850 L438.34,265.845 L439.26,265.840 L440.18,265.835 L441.10,265.830 L442.02,265.826 L442.94,265.821 L443.86,265.817 L444.78,265.813 L445.70,265.810 L446.62,265.806 L447.54,265.803 L448.46,265.800 L449.38,265.798 L450.30,265.795 L451.22,265.793 L452.14,265.791 L453.06,265.790 L453.98,265.789 L454.90,265.788 L455.82,265.787 L456.74,265.787 L457.66,265.787 L458.58,265.788 L459.50,265.789 L460.42,265.790 L461.34,265.792 L462.26,265.794 L463.17,265.796 L464.09,265.799 L465.01,265.803 L465.93,265.806 L466.85,265.811 L467.77,265.815 L468.69,265.821 L469.61,265.826 L470.53,265.832 L471.45,265.839 L472.37,265.846 L473.29,265.854 L474.21,265.862 L475.13,265.871 L476.04,265.880 L476.96,265.890 L477.88,265.901 L478.80,265.912 L479.72,265.923 L480.64,265.935 L481.56,265.948 L482.48,265.962 L483.39,265.976 L484.31,265.991 L485.23,266.006 L486.15,266.022 L487.07,266.039 L487.99,266.056" stroke="#ff0000" stroke-width="1.1"/>
<path d="M82.50,8.310 L83.40,8.309 L84.31,8.311 L85.22,8.316 L86.13,8.325 L87.04,8.337 L87.95,8.353 L88.86,8.373 L89.78,8.397 L90.69,8.425 L91.60,8.459 L92.51,8.497 L93.42,8.541 L94.33,8.590 L95.24,8.644 L96.15,8.704 L97.05,8.771 L97.96,8.844 L98.87,8.923 L99.77,9.009 L100.68,9.102 L101.58,9.202 L102.48,9.310 L103.38,9.425 L104.28,9.549 L105.18,9.680 L106.07,9.820 L106.97,9.968 L107.86,10.125 L108.75,10.291 L109.64,10.467 L110.53,10.651 L111.41,10.846 L112.29,11.050 L113.17,11.265 L114.05,11.490 L114.92,11.726 L115.79,11.972 L116.66,12.230 L117.52,12.498 L118.39,12.779 L119.25,13.071 L120.10,13.375 L120.96,13.691 L121.80,14.020 L122.65,14.361 L123.49,14.715 L124.33,15.082 L125.16,15.461 L125.99,15.854 L126.82,16.258 L127.64,16.676 L128.45,17.105 L129.26,17.547 L130.06,18.000 L130.85,18.466 L131.64,18.944 L132.42,19.433 L133.19,19.935 L133.95,20.447 L134.70,20.972 L135.45,21.508 L136.18,22.055 L136.91,22.613 L137.63,23.182 L138.33,23.762 L139.02,24.354 L139.71,24.956 L140.38,25.568 L141.04,26.192 L141.68,26.825 L142.32,27.469 L142.94,28.123 L143.55,28.787 L144.15,29.460 L144.74,30.142 L145.32,30.833 L145.88,31.532 L146.44,32.240 L146.99,32.955 L147.53,33.678 L148.06,34.408 L148.58,35.145 L149.09,35.889 L149.60,36.639 L150.09,37.395 L150.58,38.157 L151.06,38.925 L151.54,39.698 L152.01,40.475 L152.47,41.258 L152.93,42.044 L153.38,42.835 L153.83,43.629 L154.27,44.426 L154.70,45.227 L155.14,46.031 L155.56,46.837 L155.99,47.645 L156.41,48.455 L156.83,49.267 L157.25,50.080 L157.66,50.894 L158.07,51.709 L158.48,52.524 L158.89,53.340 L159.30,54.157 L159.70,54.974 L160.11,55.791 L160.51,56.609 L160.91,57.428 L161.31,58.247 L161.70,59.067 L162.10,59.888 L162.49,60.709 L162.88,61.530 L163.27,62.353 L163.66,63.176 L164.05,63.999 L164.43,64.823 L164.81,65.648 L165.19,66.473 L165.57,67.299 L165.95,68.125 L166.33,68.952 L166.70,69.780 L167.07,70.608 L167.44,71.437 L167.81,72.267 L168.18,73.097 L168.55,73.928 L168.91,74.760 L169.27,75.592 L169.63,76.425 L169.99,77.259 L170.35,78.093 L170.71,78.928 L171.06,79.764 L171.41,80.600 L171.76,81.437 L172.11,82.274 L172.46,83.113 L172.81,83.952 L173.15,84.792 L173.49,85.632 L173.84,86.473 L174.18,87.315 L174.51,88.158 L174.85,89.001 L175.19,89.845 L175.52,90.689 L175.85,91.535 L176.18,92.380 L176.51,93.227 L176.84,94.074 L177.17,94.921 L177.49,95.769 L177.82,96.618 L178.14,97.467 L178.46,98.316 L178.79,99.166 L179.11,100.017 L179.43,100.867 L179.74,101.719 L180.06,102.570 L180.38,103.422 L180.70,104.275 L181.01,105.128 L181.33,105.981 L181.64,106.834 L181.95,107.688 L182.26,108.542 L182.58,109.396 L182.89,110.251 L183.20,111.105 L183.51,111.960 L183.82,112.815 L184.13,113.670 L184.44,114.526 L184.75,115.381 L185.06,116.237 L185.36,117.093 L185.67,117.949 L185.98,118.805 L186.29,119.661 L186.60,120.517 L186.91,121.373 L187.21,122.229 L187.52,123.085 L187.83,123.941 L188.14,124.797 L188.45,125.653 L188.75,126.508 L189.06,127.364 L189.37,128.220 L189.68,129.075 L189.99,129.930 L190.30,130.785 L190.61,131.640 L190.92,132.495 L191.24,133.349 L191.55,134.204 L191.86,135.058 L192.17,135.911 L192.49,136.765 L192.80,137.618 L193.12,138.470 L193.43,139.323 L193.75,140.175 L194.07,141.026 L194.39,141.878 L194.71,142.728 L195.03,143.579 L195.35,144.429 L195.67,145.278 L196.00,146.127 L196.32,146.976 L196.65,147.824 L196.98,148.671 L197.31,149.518 L197.64,150.364 L197.97,151.210 L198.30,152.055 L198.64,152.899 L198.97,153.743 L199.31,154.586 L199.65,155.429 L199.99,156.271 L200.33,157.112 L200.67,157.953 L201.02,158.794 L201.36,159.634 L201.71,160.474 L202.05,161.314 L202.40,162.154 L202.75,162.994 L203.10,163.834 L203.45,164.675 L203.80,165.516 L204.14,166.357 L204.49,167.198 L204.84,168.040 L205.19,168.883 L205.54,169.727 L205.89,170.571 L206.24,171.416 L206.59,172.262 L206.93,173.109 L207.28,173.957 L207.62,174.806 L207.97,175.655 L208.32,176.503 L208.67,177.352 L209.02,178.200 L209.37,179.047 L209.72,179.892 L210.08,180.737 L210.43,181.579 L210.80,182.419 L211.16,183.257 L211.53,184.092 L211.90,184.925 L212.28,185.754 L212.66,186.579 L213.05,187.400 L213.44,188.218 L213.84,189.031 L214.24,189.839 L214.65,190.642 L215.07,191.440 L215.50,192.232 L215.93,193.018 L216.37,193.798 L216.82,194.571 L217.28,195.338 L217.75,196.097 L218.23,196.849 L218.71,197.594 L219.21,198.333 L219.71,199.066 L220.22,199.794 L220.73,200.519 L221.26,201.242 L221.78,201.962 L222.31,202.682 L222.84,203.402 L223.37,204.123 L223.91,204.845 L224.44,205.571 L224.98,206.300 L225.51,207.034 L226.04,207.772 L226.57,208.513 L227.11,209.258 L227.64,210.005 L228.17,210.755 L228.70,211.508 L229.23,212.261 L229.76,213.016 L230.30,213.771 L230.83,214.527 L231.37,215.283 L231.91,216.038 L232.45,216.792 L232.99,217.545 L233.53,218.296 L234.08,219.045 L234.63,219.791 L235.19,220.534 L235.75,221.274 L236.31,222.010 L236.88,222.741 L237.45,223.467 L238.02,224.189 L238.60,224.904 L239.19,225.614 L239.78,226.317 L240.38,227.013 L240.98,227.702 L241.59,228.383 L242.20,229.056 L242.83,229.721 L243.45,230.376 L244.09,231.022 L244.74,231.658 L245.39,232.284 L246.05,232.899 L246.71,233.505 L247.39,234.101 L248.07,234.686 L248.76,235.262 L249.45,235.828 L250.16,236.385 L250.87,236.932 L251.58,237.470 L252.31,237.999 L253.03,238.518 L253.77,239.029 L254.51,239.531 L255.26,240.024 L256.01,240.508 L256.77,240.983 L257.54,241.450 L258.31,241.909 L259.08,242.360 L259.87,242.802 L260.65,243.236 L261.44,243.663 L262.24,244.081 L263.04,244.492 L263.85,244.895 L264.66,245.291 L265.47,245.679 L266.29,246.060 L267.12,246.434 L267.95,246.801 L268.78,247.161 L269.61,247.514 L270.45,247.860 L271.30,248.200 L272.14,248.533 L272.99,248.860 L273.84,249.180 L274.70,249.494 L275.56,249.802 L276.42,250.105 L277.29,250.401 L278.15,250.691 L279.02,250.976 L279.90,251.255 L280.77,251.529 L281.65,251.798 L282.53,252.061 L283.41,252.319 L284.29,252.572 L285.17,252.820 L286.06,253.064 L286.94,253.302 L287.83,253.537 L288.72,253.766 L289.61,253.992 L290.50,254.213 L291.39,254.430 L292.28,254.642 L293.18,254.851 L294.07,255.056 L294.96,255.258 L295.86,255.456 L296.75,255.650 L297.65,255.841 L298.54,256.028 L299.43,256.212 L300.33,256.393 L301.22,256.570 L302.11,256.744 L303.01,256.915 L303.90,257.083 L304.80,257.247 L305.69,257.409 L306.59,257.567 L307.48,257.722 L308.38,257.874 L309.27,258.024 L310.17,258.170 L311.06,258.314 L311.96,258.454 L312.85,258.592 L313.75,258.727 L314.65,258.860 L315.54,258.990 L316.44,259.117 L317.33,259.241 L318.23,259.363 L319.13,259.482 L320.03,259.599 L320.92,259.714 L321.82,259.826 L322.72,259.936 L323.62,260.043 L324.52,260.148 L325.42,260.251 L326.31,260.352 L327.21,260.450 L328.11,260.546 L329.01,260.641 L329.91,260.733 L330.82,260.823 L331.72,260.911 L332.62,260.998 L333.52,261.082 L334.42,261.164 L335.32,261.245 L336.23,261.324 L337.13,261.401 L338.03,261.476 L338.94,261.549 L339.84,261.621 L340.74,261.691 L341.65,261.759 L342.55,261.826 L343.46,261.891 L344.36,261.954 L345.27,262.016 L346.17,262.076 L347.08,262.135 L347.99,262.192 L348.89,262.248 L349.80,262.302 L350.70,262.355 L351.61,262.406 L352.52,262.456 L353.43,262.505 L354.33,262.552 L355.24,262.598 L356.15,262.643 L357.06,262.687 L357.97,262.729 L358.87,262.770 L359.78,262.811 L360.69,262.849 L361.60,262.887 L362.51,262.924 L363.42,262.960 L364.33,262.994 L365.24,263.028 L366.15,263.060 L367.06,263.092 L367.97,263.123 L368.88,263.153 L369.79,263.182 L370.70,263.210 L371.61,263.237 L372.52,263.264 L373.43,263.289 L374.34,263.314 L375.25,263.339 L376.16,263.362 L377.07,263.385 L377.98,263.407 L378.89,263.429 L379.80,263.450 L380.71,263.471 L381.63,263.490 L382.54,263.510 L383.45,263.529 L384.36,263.547 L385.27,263.566 L386.18,263.583 L387.09,263.601 L388.00,263.618 L388.91,263.634 L389.83,263.650 L390.74,263.667 L391.65,263.682 L392.56,263.698 L393.47,263.713 L394.38,263.729 L395.29,263.744 L396.20,263.759 L397.11,263.773 L398.03,263.788 L398.94,263.803 L399.85,263.818 L400.76,263.833 L401.67,263.847 L402.58,263.862 L403.49,263.877 L404.40,263.892 L405.31,263.907 L406.22,263.923 L407.13,263.938 L408.04,263.954 L408.95,263.970 L409.86,263.987 L410.77,264.003 L411.68,264.020 L412.59,264.038 L413.50,264.055 L414.41,264.073 L415.32,264.091 L416.23,264.110 L417.13,264.129 L418.04,264.148 L418.95,264.167 L419.86,264.187 L420.77,264.207 L421.68,264.227 L422.58,264.247 L423.49,264.267 L424.40,264.288 L425.31,264.309 L426.22,264.329 L427.12,264.350 L428.03,264.371 L428.94,264.393 L429.85,264.414 L430.76,264.435 L431.66,264.457 L432.57,264.478 L433.48,264.500 L434.39,264.522 L435.29,264.543 L436.20,264.565 L437.11,264.586 L438.01,264.608 L438.92,264.629 L439.83,264.651 L440.74,264.672 L441.64,264.694 L442.55,264.715 L443.46,264.736 L444.37,264.757 L445.27,264.778 L446.18,264.799 L447.09,264.819 L448.00,264.840 L448.90,264.860 L449.81,264.880 L450.72,264.900 L451.63,264.919 L452.53,264.939 L453.44,264.958 L454.35,264.976 L455.26,264.995 L456.17,265.013 L457.07,265.031 L457.98,265.049 L458.89,265.066 L459.80,265.083 L460.71,265.100 L461.61,265.116 L462.52,265.132 L463.43,265.148 L464.34,265.163 L465.25,265.177 L466.16,265.192 L467.07,265.205 L467.98,265.219 L468.88,265.231 L469.79,265.244 L470.70,265.256 L471.61,265.267 L472.52,265.278 L473.43,265.288 L474.34,265.298 L475.25,265.307 L476.16,265.316 L477.07,265.324 L477.98,265.331 L478.89,265.338 L479.81,265.344 L480.72,265.349 L481.63,265.354 L482.54,265.358 L483.45,265.362 L484.36,265.365 L485.28,265.367 L486.19,265.368 L487.10,265.369 L488.01,265.369" stroke="#ff0000" stroke-width="1.1"/>
</g>
<text transform="matrix(0.06440,0,0,0.10689,60.897,557.159)" font-family="Liberation Sans, sans-serif" font-weight="normal" font-size="200" fill="#000" stroke="#000" stroke-width="6.21" stroke-linejoin="round">0.0</text>
<text transform="matrix(0.06496,0,0,0.10693,60.892,448.842)" font-family="Liberation Sans, sans-serif" font-weight="normal" font-size="200" fill="#000" stroke="#000" stroke-width="6.16" stroke-linejoin="round">0.2</text>
<text transform="matrix(0.06393,0,0,0.10686,60.901,340.517)" font-family="Liberation Sans, sans-serif" font-weight="normal" font-size="200" fill="#000" stroke="#000" stroke-width="6.26" stroke-linejoin="round">0.4</text>
<text transform="matrix(0.06465,0,0,0.10691,60.895,232.200)" font-family="Liberation Sans, sans-serif" font-weight="normal" font-size="200" fill="#000" stroke="#000" stroke-width="6.19" stroke-linejoin="round">0.6</text>
<text transform="matrix(0.06462,0,0,0.10691,60.895,123.880)" font-family="Liberation Sans, sans-serif" font-weight="normal" font-size="200" fill="#000" stroke="#000" stroke-width="6.19" stroke-linejoin="round">0.8</text>
<text transform="matrix(0.06675,0,0,0.11539,61.477,15.368)" font-family="Liberation Serif, serif" font-weight="normal" font-size="200" fill="#000" stroke="#000" stroke-width="7.49" stroke-linejoin="round">1</text>
<text transform="matrix(0.06040,0,0,0.10727,68.697,15.335)" font-family="Liberation Sans, sans-serif" font-weight="normal" font-size="200" fill="#000" stroke="#000" stroke-width="6.62" stroke-linejoin="round">.0</text>
<text transform="matrix(0.08072,0,0,0.12158,159.922,577.000)" font-family="Liberation Serif, serif" font-weight="bold" font-size="200" fill="#000">2</text>
<text transform="matrix(0.07041,0,0,0.11346,240.977,576.745)" font-family="Liberation Sans, sans-serif" font-weight="bold" font-size="200" fill="#000">3</text>
<text transform="matrix(0.07696,0,0,0.12230,321.690,577.000)" font-family="Liberation Serif, serif" font-weight="bold" font-size="200" fill="#000">4</text>
<text transform="matrix(0.06934,0,0,0.11537,402.673,576.775)" font-family="Liberation Sans, sans-serif" font-weight="bold" font-size="200" fill="#000">5</text>
<text transform="matrix(0.07240,0,0,0.11370,483.570,576.778)" font-family="Liberation Sans, sans-serif" font-weight="bold" font-size="200" fill="#000">6</text>
<g role="img" aria-label="1"><title>1</title><path d="M82.2,561H84.4V575.3H85.5V576.8H80.6V575.3H82.2V564.7L80.6,565.5V564.0Z" fill="#000"/></g>
<text transform="matrix(0.07400,0,0,0.16221,247.824,616.471)" font-family="Liberation Serif, serif" font-weight="normal" font-size="200" fill="#000" stroke="#000" stroke-width="4.05" stroke-linejoin="round">M</text>
<text transform="matrix(0.08596,0,0,0.10619,261.655,624.300)" font-family="Liberation Serif, serif" font-weight="bold" font-size="200" fill="#000" stroke="#000" stroke-width="1.75" stroke-linejoin="round">s</text>
<text transform="matrix(0.10123,0,0,0.17850,277.460,615.735)" font-family="Liberation Serif, serif" font-weight="normal" font-size="200" fill="#000" stroke="#000" stroke-width="2.96" stroke-linejoin="round">(</text>
<text transform="matrix(0.08938,0,0,0.16231,284.427,616.428)" font-family="Liberation Serif, serif" font-weight="normal" font-size="200" fill="#000" stroke="#000" stroke-width="3.36" stroke-linejoin="round">T</text>
<text transform="matrix(0.10672,0,0,0.15353,295.016,616.584)" font-family="Liberation Serif, serif" font-weight="normal" font-size="200" fill="#000" stroke="#000" stroke-width="2.81" stroke-linejoin="round">e</text>
<text transform="matrix(0.07575,0,0,0.16238,304.480,616.187)" font-family="Liberation Serif, serif" font-weight="normal" font-size="200" fill="#000" stroke="#000" stroke-width="3.96" stroke-linejoin="round">V</text>
<text transform="matrix(0.09734,0,0,0.17893,315.523,615.906)" font-family="Liberation Serif, serif" font-weight="normal" font-size="200" fill="#000" stroke="#000" stroke-width="3.08" stroke-linejoin="round">)</text>
<text transform="matrix(0.09929,0,0,0.18116,400.677,235.313)" font-family="Liberation Serif, serif" font-weight="normal" font-size="200" fill="#000" stroke="#000" stroke-width="3.02" stroke-linejoin="round">(</text>
<text transform="matrix(0.10716,0,0,0.15956,408.150,235.965)" font-family="Liberation Serif, serif" font-weight="normal" font-size="200" fill="#000" stroke="#000" stroke-width="2.80" stroke-linejoin="round">b</text>
<text transform="matrix(0.09539,0,0,0.18104,419.335,235.307)" font-family="Liberation Serif, serif" font-weight="normal" font-size="200" fill="#000" stroke="#000" stroke-width="3.14" stroke-linejoin="round">)</text>
<g role="img" aria-label="F"><title>F</title><path d="M0,281.1H11.4V278H12.8V286.9H11.4V283.8H1.5V286.9H-1V269.8H1.2V269.2H4.3V270.6L1.5,271.2V281.1Z M5.4,276.8H3.8V275.3H8.9V276.8H6.7V281.1H5.4Z" fill="#000"/></g>
</svg>
</body></html>
